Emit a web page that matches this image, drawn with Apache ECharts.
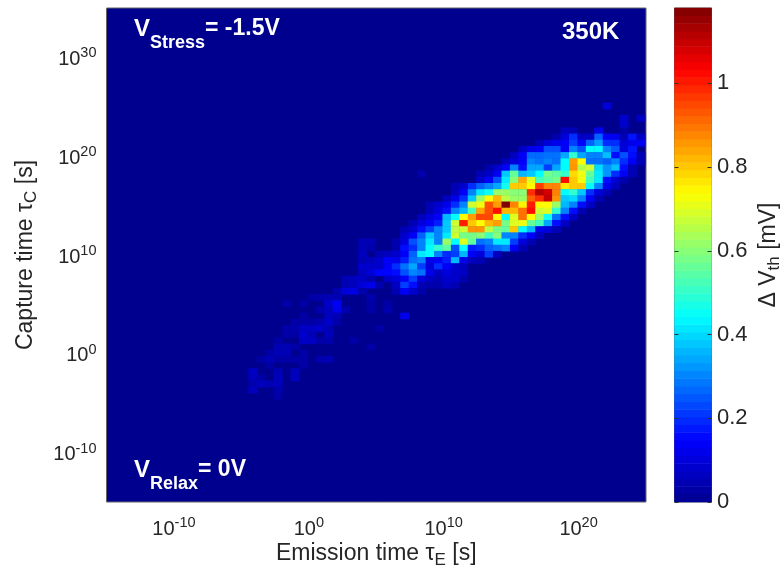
<!DOCTYPE html>
<html><head><meta charset="utf-8">
<style>html,body{margin:0;padding:0;background:#fff}#c{width:784px;height:573px;filter:blur(0.5px)}</style>
<script src="https://cdn.jsdelivr.net/npm/echarts@6/dist/echarts.min.js"></script>
</head><body><div id="c"></div>
<script>
// Tick labels (decade exponents) and colour bar ticks
const xTickExponents = [-10, 0, 10, 20];
const yTickExponents = [-10, 0, 10, 20, 30];
const colorbarTicks = [0, 0.2, 0.4, 0.6, 0.8, 1];
const colorbarMax = 1.18;
const jetColors = ['#00008f','#0000ff','#007fff','#00ffff','#7fff7f','#ffff00','#ff7f00','#ff0000','#7f0000'];

// ΔVth [mV]. Each row: [first column, values...]; blank cells are 0.
const row15 = [58,.1];
const row17 = [60,.08,0,.07];
const row18 = [60,.08];
const row19 = [53,.06,.05,0,0,.12,0,0,.03];
const row20 = [52,.04,.1,.2,.07,.07,.26,.14,.12,.05,.17,.07];
const row21 = [50,.05,.1,.12,.14,.22,.15,.26,.33,.2,.2,.09,.12,.13];
const row22 = [48,.07,.12,.14,.24,.24,.14,.3,.24,.44,.44,.3,.25,.1,.17];
const row23 = [47,.06,.14,.27,.27,.28,.28,.34,.5,.34,.3,.3,.37,.16,.24,.16,.05];
const row24 = [46,.06,.1,.14,.3,.28,.3,.28,.44,.85,.74,.28,.28,.26,.3,.2,.14,.05];
const row25 = [44,.04,.08,.14,.3,.16,.34,.34,.22,.34,.44,.86,.65,.68,.4,.32,.37,.16,.05];
const row26 = [36,.04,0,0,0,0,0,0,.05,.07,.13,.38,.56,.36,.38,.44,.58,.55,.5,.78,.72,.56,.42,.32,.2,.13,.05];
const row27 = [43,.08,.14,.24,.42,.6,.84,.7,.52,.55,.58,1.02,.8,.72,.52,.42,.16,.09,.04];
const row28 = [40,.05,.08,.2,.26,.3,.34,.46,.8,.8,.74,.96,.88,.88,.76,.8,.8,.44,.3,.12,.06];
const row29 = [40,.06,.14,.3,.42,.46,.62,.62,.6,.6,.98,1.12,1.08,.88,.44,.5,.38,.2,.1,.05];
const row30 = [39,.06,.12,.2,.38,.62,.74,.82,.66,.62,.62,.92,.98,1.1,.86,.38,.4,.3,.14,.05];
const row31 = [37,.05,.08,.12,.2,.3,.68,.72,.94,.85,1.18,.88,.75,1.0,.74,.74,.62,.36,.3,.16,.07];
const row32 = [37,.05,.1,.16,.3,.36,.52,.84,.94,1.02,.82,.82,.9,1.02,.68,.7,.5,.3,.16,.05];
const row33 = [36,.06,.1,.14,.36,.44,.74,.85,.95,.95,.74,.44,.7,.9,.74,.62,.46,.28,.16,.07];
const row34 = [35,.05,.1,.14,.18,.38,.68,1.0,.8,.74,.82,.85,.58,.7,.72,.56,.52,.34,.16,.07];
const row35 = [34,.05,.08,.16,.22,.3,.38,.66,.68,.86,.86,.66,.58,.56,.8,.44,.36,.12,.1,.05];
const row36 = [34,.08,.14,.26,.38,.3,.42,.68,.58,.58,.6,.52,.6,.3,.3,.2,.14,.06];
const row37 = [29,.05,.05,0,0,.04,.1,.24,.3,.42,.3,.62,.44,.7,.56,.28,.3,.42,.42,.22,.1,.05];
const row38 = [29,.05,.04,0,0,.04,.16,.2,.3,.44,.5,.55,.24,.45,.18,.2,.26,.28,.3,.14,.05];
const row39 = [29,.06,0,.05,.06,.08,.14,.26,.42,.44,.3,.2,.22,.36,.14,.1,.22,.06];
const row40 = [29,.05,.06,.08,.14,.12,.18,.28,.3,.12,.14,.18,.36,.12,.06,.05];
const row41 = [29,.08,.08,.08,.14,.2,.28,.34,.22,.1,.2,.14,.08,.06];
const row42 = [29,.06,.1,.15,.15,.16,.24,.3,.28,.12,.07,.1,.08,.07];
const row43 = [27,.05,.06,.07,.04,0,.07,.1,.14,.22,.1,.07,.05,.08,.08,.04];
const row44 = [27,.05,.06,.1,.12,.04,0,.07,.22,.16,.05,.04,.04,.07,.05];
const row45 = [26,.04,.1,.11,.04,0,0,0,.05,.14,.08,.04];
const row46 = [23,.03,.04,.05,.05,0,0,0,.04];
const row47 = [20,.03,0,.03,0,0,.08,.13,0,0,0,.03,0,.03];
const row48 = [24,.04,.06,.12,.04,0,0,.03,0,.04];
const row49 = [22,.03,0,0,.06,.05,0,0,0,0,0,0,0,.12];
const row50 = [21,.03,.03,.03,.04,.08,.03];
const row51 = [20,.03,.04,.07,.07,.08,.05,0,0,0,0,0,.03];
const row52 = [20,.03,.03,.08,.05,0,.06];
const row53 = [19,.03,0,0,.07,.07,.03,.04,0,0,.03];
const row54 = [19,.05,.05,.03,0,0,0,0,0,0,0,0,.03];
const row55 = [18,.03,.05,.05,0,.03];
const row56 = [17,.03,.05,.03,.03,.03,.03,0,.04,.05];
const row57 = [18,.03,0,0,0,.03];
const row58 = [16,.07,0,0,.05,0,.06];
const row59 = [16,.06,.03,0,.06,0,.06];
const row60 = [16,.04,.06,.05,.06];
const row61 = [16,.06,0,0,.04];
const row62 = [19,.03];

const rowTable = [[15,row15],[17,row17],[18,row18],[19,row19],[20,row20],[21,row21],[22,row22],[23,row23],[24,row24],[25,row25],
 [26,row26],[27,row27],[28,row28],[29,row29],[30,row30],[31,row31],[32,row32],[33,row33],[34,row34],[35,row35],[36,row36],
 [37,row37],[38,row38],[39,row39],[40,row40],[41,row41],[42,row42],[43,row43],[44,row44],[45,row45],[46,row46],[47,row47],
 [48,row48],[49,row49],[50,row50],[51,row51],[52,row52],[53,row53],[54,row54],[55,row55],[56,row56],[57,row57],[58,row58],
 [59,row59],[60,row60],[61,row61],[62,row62]];

const nCols = 63, nRows = 79;
const emissionBins = Array.from({length:nCols},(_,i)=>String(i));
const captureBins = Array.from({length:nRows},(_,i)=>String(i));
const heat = [];
rowTable.forEach(([m,r])=>{ for(let i=1;i<r.length;i++){ if(r[i]>0) heat.push([r[0]+i-1,m,r[i]]); } });

const levels = Array.from({length:64},(_,i)=>String(i));
const barCells = levels.map((_,i)=>[0,i,(i+0.5)/64*colorbarMax]);

const F = 'Liberation Sans, Arial, Helvetica, sans-serif';
const TXT = '#262626';
const decadeRich = {
  b:{fontFamily:F,fontSize:20,color:TXT,lineHeight:24},
  s:{fontFamily:F,fontSize:14.5,color:TXT,lineHeight:24,padding:[0,0,12,0]}
};
const decade = v => '{b|10}{s|'+v+'}';
const titleRich = {n:{fontFamily:F,fontSize:23,color:TXT,lineHeight:26},t:{fontFamily:F,fontSize:17,color:TXT,lineHeight:26,padding:[12,0,0,0]}};

const plot = {left:106.5, top:8, width:539.5, height:494};
const bar = {left:674.5, top:8, width:37, height:494};
const noBounds = {outerBoundsMode:'none',containLabel:false};

const chart = echarts.init(document.getElementById('c'),null,{renderer:'canvas'});
chart.setOption({
  animation:false,
  backgroundColor:'#ffffff',
  grid:[
    Object.assign({left:plot.left,top:plot.top,width:plot.width,height:plot.height,show:true,backgroundColor:'#00008f',borderColor:'#666666',borderWidth:1},noBounds),
    Object.assign({left:113.6,top:10.35,width:nCols*8.4375,height:nRows*6.175},noBounds),
    Object.assign({left:bar.left,top:bar.top,width:bar.width,height:bar.height,show:true,borderColor:'#666666',borderWidth:1},noBounds)
  ],
  xAxis:[
    {type:'value',gridIndex:0,min:-15,max:25,position:'bottom',
      axisLine:{show:false,onZero:false},splitLine:{show:false},axisTick:{show:false},
      axisLabel:{show:true,margin:15,formatter:decade,rich:decadeRich,customValues:xTickExponents},
      name:'{n|Emission time \u03C4}{t|E}{n| [s]}',nameLocation:'middle',nameGap:39,nameMoveOverlap:false,
      nameTextStyle:{rich:titleRich}},
    {type:'category',gridIndex:1,data:emissionBins,show:false},
    {type:'category',gridIndex:2,data:['c'],show:false}
  ],
  yAxis:[
    {type:'value',gridIndex:0,min:-15,max:35,position:'left',
      axisLine:{show:false,onZero:false},splitLine:{show:false},axisTick:{show:false},
      axisLabel:{show:true,margin:10,padding:[4,0,0,0],formatter:decade,rich:decadeRich,customValues:yTickExponents},
      name:'{n|Capture time \u03C4}{t|C}{n| [s]}',nameLocation:'middle',nameGap:68,nameMoveOverlap:false,
      nameTextStyle:{rich:titleRich}},
    {type:'category',gridIndex:1,data:captureBins,inverse:true,show:false},
    {type:'category',gridIndex:2,data:levels,show:false},
    {type:'value',gridIndex:2,min:0,max:colorbarMax,position:'right',z:10,
      axisLine:{show:false,onZero:false},splitLine:{show:false},
      axisTick:{show:true,inside:true,length:4,lineStyle:{color:'#333'},customValues:colorbarTicks},
      axisLabel:{show:true,margin:5.5,fontFamily:F,fontSize:22,color:TXT,customValues:colorbarTicks,formatter:v=>String(v)},
      name:'{n|\u0394 V}{t|th}{n| [mV]}',nameLocation:'middle',nameGap:44,nameMoveOverlap:false,
      nameTextStyle:{rich:titleRich}},
    {type:'value',gridIndex:2,min:0,max:colorbarMax,position:'left',z:10,
      axisLine:{show:false,onZero:false},splitLine:{show:false},axisLabel:{show:false},
      axisTick:{show:true,inside:true,length:4,lineStyle:{color:'#333'},customValues:colorbarTicks}}
  ],
  visualMap:{show:false,min:0,max:colorbarMax,seriesIndex:[0,1],dimension:2,inRange:{color:jetColors}},
  series:[
    {type:'heatmap',xAxisIndex:1,yAxisIndex:1,data:heat,progressive:0,emphasis:{disabled:true}},
    {type:'heatmap',xAxisIndex:2,yAxisIndex:2,data:barCells,progressive:0,emphasis:{disabled:true}}
  ],
  graphic:[
    {type:'text',left:134,top:6,z:20,style:{text:'{v|V}{s|Stress}{e|= -1.5V}',rich:{
      v:{fontFamily:F,fontWeight:'bold',fontSize:24,fill:'#fff',lineHeight:26},
      s:{fontFamily:F,fontWeight:'bold',fontSize:18,fill:'#fff',lineHeight:26,padding:[28,0,0,0]},
      e:{fontFamily:F,fontWeight:'bold',fontSize:23,fill:'#fff',lineHeight:26}}}},
    {type:'text',left:134,top:447,z:20,style:{text:'{v|V}{s|Relax}{e|= 0V}',rich:{
      v:{fontFamily:F,fontWeight:'bold',fontSize:24,fill:'#fff',lineHeight:26},
      s:{fontFamily:F,fontWeight:'bold',fontSize:18,fill:'#fff',lineHeight:26,padding:[28,0,0,0]},
      e:{fontFamily:F,fontWeight:'bold',fontSize:23,fill:'#fff',lineHeight:26}}}},
    {type:'text',left:562,top:20,z:20,style:{text:'350K',fontFamily:F,fontWeight:'bold',fontSize:24,fill:'#fff'}}
  ]
});
</script></body></html>
